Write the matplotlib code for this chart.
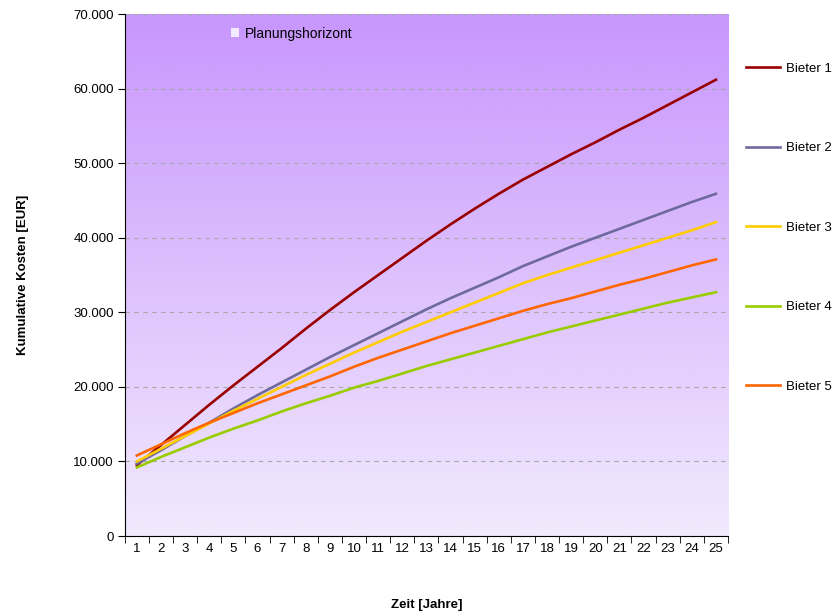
import numpy as np
import matplotlib
matplotlib.use("Agg")
import matplotlib.pyplot as plt
from matplotlib.patches import Patch
from matplotlib.ticker import FuncFormatter, MultipleLocator

plt.rcParams['font.family'] = ['Liberation Sans', 'DejaVu Sans']

jahre = list(range(1, 26))

bieter1 = [9500, 12200, 14900, 17600, 20200, 22700, 25200, 27800, 30300, 32700,
           35000, 37300, 39600, 41800, 43900, 45900, 47800, 49500, 51200, 52800,
           54500, 56100, 57800, 59500, 61200]
bieter2 = [9700, 11500, 13400, 15200, 17100, 18900, 20600, 22300, 24000, 25600,
           27200, 28800, 30400, 31900, 33300, 34700, 36200, 37500, 38800, 40000,
           41200, 42400, 43600, 44800, 45900]
bieter3 = [10000, 11700, 13400, 15100, 16800, 18400, 20000, 21600, 23100, 24600,
           26000, 27400, 28700, 30000, 31300, 32600, 33900, 35000, 36000, 37000,
           38000, 39000, 40000, 41000, 42100]
bieter4 = [9200, 10600, 11900, 13200, 14400, 15500, 16700, 17800, 18800, 19900,
           20800, 21800, 22800, 23700, 24600, 25500, 26400, 27300, 28100, 28900,
           29700, 30500, 31300, 32000, 32700]
bieter5 = [10800, 12300, 13800, 15200, 16500, 17800, 19000, 20200, 21400, 22700,
           23900, 25000, 26100, 27200, 28200, 29200, 30200, 31100, 31900, 32800,
           33700, 34500, 35400, 36300, 37100]

namen = ["Bieter 1", "Bieter 2", "Bieter 3", "Bieter 4", "Bieter 5"]
farben = ["#990000", "#6E6A9E", "#FFCC00", "#99CC00", "#FF6600"]
reihen = [bieter1, bieter2, bieter3, bieter4, bieter5]

fig = plt.figure(figsize=(8.32, 6.14), dpi=100)
ax = fig.add_axes([0.150, 0.127, 0.725, 0.850])

# Hintergrund mit Farbverlauf
oben = np.array([200, 150, 253]) / 255
unten = np.array([242, 234, 253]) / 255
t = np.linspace(0, 1, 256)[:, None]
verlauf = (oben * (1 - t) + unten * t)[:, None, :]
ax.imshow(verlauf, extent=[0.5, 25.5, 0, 70000], aspect='auto', zorder=0)

for werte, name, farbe in zip(reihen, namen, farben):
    ax.plot(jahre, werte, color=farbe, lw=1.9, label=name, zorder=3)

ax.set_xlim(0.5, 25.5)
ax.set_ylim(0, 70000)
ax.yaxis.set_major_locator(MultipleLocator(10000))
ax.yaxis.set_major_formatter(FuncFormatter(lambda v, p: f"{int(v):,}".replace(",", ".")))
ax.set_xticks(jahre)
ax.set_xticks(np.arange(0.5, 26, 1), minor=True)
ax.tick_params(axis='x', which='major', length=0, pad=5, labelsize=9.5)
ax.tick_params(axis='x', which='minor', length=5, direction='out')
ax.tick_params(axis='y', length=5, direction='out', labelsize=9.5, pad=3)
ax.grid(axis='y', color='#A8A8A8', linestyle=(0, (4, 4)), lw=0.8, zorder=1)

for s in ['top', 'right']:
    ax.spines[s].set_visible(False)
ax.spines['left'].set_color('black')
ax.spines['bottom'].set_color('black')

ax.set_xlabel("Zeit [Jahre]", fontsize=9.5, fontweight='bold', labelpad=32)
ax.set_ylabel("Kumulative Kosten [EUR]", fontsize=9.5, fontweight='bold', labelpad=32)

leg = ax.legend(loc='upper left', bbox_to_anchor=(1.01, 0.93), frameon=False,
                fontsize=9.5, labelspacing=5.1, handlelength=2.6, handletextpad=0.45)
ax.add_artist(leg)

ax.legend(handles=[Patch(facecolor='#F2EAFF', edgecolor='none', label='Planungshorizont')],
          loc='upper left', bbox_to_anchor=(0.155, 1.0), frameon=False, fontsize=10,
          handlelength=0.6, handleheight=0.6, handletextpad=0.4)

fig.savefig("out.png", dpi=100)
